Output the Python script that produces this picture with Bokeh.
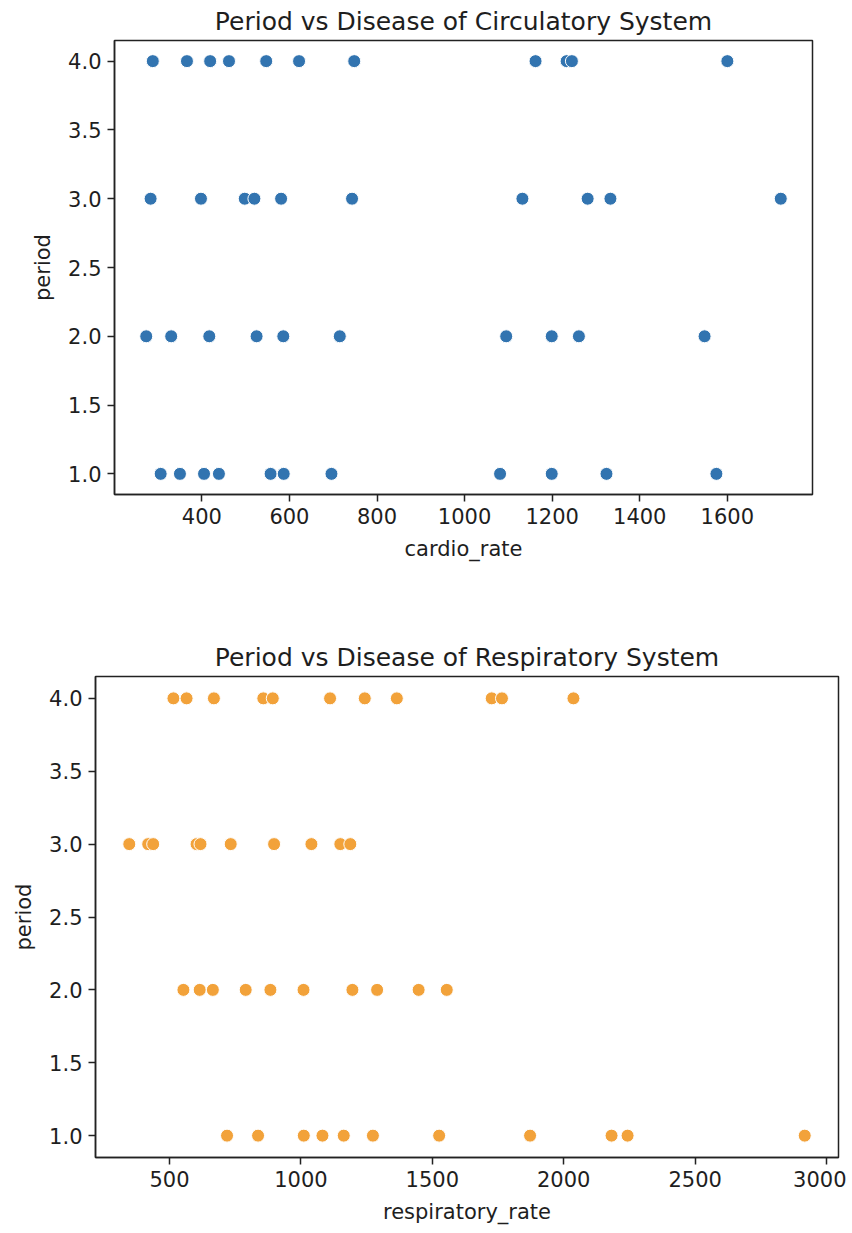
from bokeh.plotting import figure
from bokeh.layouts import column, row
from bokeh.models import FixedTicker, NumeralTickFormatter, Range1d, ColumnDataSource
from bokeh.embed import file_html
from bokeh.resources import INLINE

# ---- data ----
periods = [4, 3, 2, 1]

cardio_p4 = [288, 366, 419, 462, 547, 622, 748, 1162, 1233, 1245, 1600]
cardio_p3 = [283, 398, 498, 520, 581, 743, 1132, 1281, 1333, 1722]
cardio_p2 = [273, 330, 417, 525, 586, 715, 1095, 1199, 1261, 1548]
cardio_p1 = [306, 350, 405, 439, 557, 587, 696, 1081, 1199, 1324, 1575]

resp_p4 = [515, 565, 669, 857, 893, 1111, 1243, 1365, 1726, 1765, 2037]
resp_p3 = [347, 419, 438, 603, 618, 733, 898, 1040, 1150, 1188]
resp_p2 = [553, 615, 665, 790, 884, 1010, 1196, 1290, 1448, 1555]
resp_p1 = [719, 837, 1011, 1082, 1163, 1274, 1526, 1872, 2182, 2243, 2917]

cardio_ticks = [400, 600, 800, 1000, 1200, 1400, 1600]
resp_ticks = [500, 1000, 1500, 2000, 2500, 3000]
period_ticks = [1.0, 1.5, 2.0, 2.5, 3.0, 3.5, 4.0]

titles = ["Period vs Disease of Circulatory System",
          "Period vs Disease of Respiratory System"]
xlabels = ["cardio_rate", "respiratory_rate"]
ylabel = "period"

BLUE = "#3274b0"
ORANGE = "#f2a23a"
TXT = "#1e1e1e"
FONT = "DejaVu Sans"


def build_source(rows):
    xs, ys = [], []
    for per, vals in zip(periods, rows):
        xs += vals
        ys += [per] * len(vals)
    return ColumnDataSource(dict(x=xs, y=ys)), xs, ys


def padded(vals, frac=0.05):
    lo, hi = min(vals), max(vals)
    pad = (hi - lo) * frac
    return Range1d(lo - pad, hi + pad)


def make(rows, color, title, xlabel, xticks, fw, fh, bl, br, bt, bb):
    src, xs, ys = build_source(rows)
    p = figure(frame_width=fw, frame_height=fh,
               min_border_left=bl, min_border_right=br,
               min_border_top=bt, min_border_bottom=bb,
               x_range=padded(xs), y_range=padded(ys),
               output_backend="svg", toolbar_location=None,
               title=title)
    p.scatter("x", "y", source=src, size=13, fill_color=color,
              line_color="white", line_width=1.0)
    p.title.text_font = FONT
    p.title.text_font_size = "25px"
    p.title.text_font_style = "normal"
    p.title.text_color = TXT
    p.title.align = "center"
    p.title.standoff = 9
    p.outline_line_color = "#222222"
    p.outline_line_width = 1.5
    p.outline_line_alpha = 1.0
    p.xgrid.visible = False
    p.ygrid.visible = False
    p.background_fill_color = "white"
    p.border_fill_color = "white"
    for ax in (p.xaxis[0], p.yaxis[0]):
        ax.axis_line_color = "#222222"
        ax.axis_line_width = 1.5
        ax.major_tick_line_color = "#222222"
        ax.major_tick_line_width = 1.5
        ax.major_tick_in = 0
        ax.major_tick_out = 7
        ax.minor_tick_line_color = None
        ax.major_label_text_font = FONT
        ax.major_label_text_font_size = "21px"
        ax.major_label_text_color = TXT
        ax.major_label_standoff = 6
        ax.axis_label_text_font = FONT
        ax.axis_label_text_font_size = "21px"
        ax.axis_label_text_font_style = "normal"
        ax.axis_label_text_color = TXT
    p.xaxis[0].axis_label_standoff = 10
    p.yaxis[0].axis_label_standoff = 10
    p.xaxis.ticker = FixedTicker(ticks=xticks)
    p.yaxis.ticker = FixedTicker(ticks=period_ticks)
    p.yaxis.formatter = NumeralTickFormatter(format="0.0")
    p.xaxis.axis_label = xlabel
    p.yaxis.axis_label = ylabel
    return p


p1 = make([cardio_p4, cardio_p3, cardio_p2, cardio_p1], BLUE, titles[0], xlabels[0],
          cardio_ticks, fw=698, fh=454, bl=114, br=32, bt=40, bb=106)
p2 = make([resp_p4, resp_p3, resp_p2, resp_p1], ORANGE, titles[1], xlabels[1],
          resp_ticks, fw=743, fh=481, bl=95, br=8, bt=76, bb=64)

layout = column(row(p1), row(p2), spacing=0)
open("out.html", "w").write(file_html(layout, INLINE))
